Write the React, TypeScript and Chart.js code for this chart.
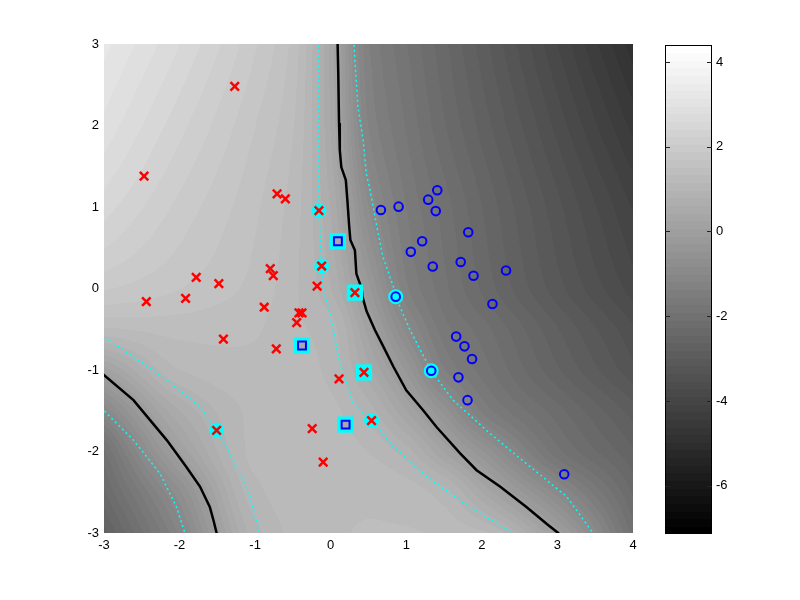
import React, { useEffect, useRef } from "react";
import { Chart, registerables } from "chart.js";
Chart.register(...registerables);

// ---- axes ----
const X_TICKS = [-3, -2, -1, 0, 1, 2, 3, 4];
const Y_TICKS = [-3, -2, -1, 0, 1, 2, 3];
const CBAR_TICKS = [-6, -4, -2, 0, 2, 4];
const CBAR_MIN = -7.14;
const CBAR_MAX = 4.4;
const CBAR_LEVELS = 64;

// ---- decision-function field (grid nodes) ----
const GRID_X = [-3, -2, -1, -0.5, 0, 0.5, 1, 1.5, 2, 3, 4];
const GRID_Y = [3, 2, 1, 0, -0.5, -1, -1.5, -2, -2.5, -3];
const FIELD_Y3 = [3.2, 2.6, 1.9, 1.45, 0.37, -1.35, -1.9, -2.4, -2.9, -3.9, -4.9];
const FIELD_Y2 = [2.9, 2.3, 1.7, 1.35, 0.42, -1.2, -1.75, -2.25, -2.7, -3.6, -4.5];
const FIELD_Y1 = [2.5, 2.0, 1.55, 1.25, 0.6, -0.82, -1.55, -2.0, -2.45, -3.3, -4.1];
const FIELD_Y0 = [1.9, 1.7, 1.45, 1.2, 0.8, -0.23, -1.33, -1.85, -2.3, -3.1, -3.8];
const FIELD_YM05 = [1.3, 1.4, 1.35, 1.2, 1.05, 0.16, -0.9, -1.65, -2.0, -2.8, -3.5];
const FIELD_YM1 = [0.15, 1.15, 1.3, 1.25, 1.1, 0.49, -0.33, -1.35, -1.8, -2.6, -3.3];
const FIELD_YM15 = [-1.0, 0.61, 1.2, 1.25, 1.2, 0.88, 0.25, -0.53, -1.4, -2.2, -2.9];
const FIELD_YM2 = [-1.95, 0.08, 1.2, 1.25, 1.25, 1.15, 0.87, 0.23, -0.44, -1.85, -2.6];
const FIELD_YM25 = [-2.3, -0.69, 1.1, 1.25, 1.3, 1.3, 1.25, 1.05, 0.44, -0.93, -2.3];
const FIELD_YM3 = [-2.7, -1.15, 0.9, 1.2, 1.3, 1.35, 1.35, 1.3, 1.2, 0.02, -2.0];
const FIELD_ROWS = [FIELD_Y3, FIELD_Y2, FIELD_Y1, FIELD_Y0, FIELD_YM05, FIELD_YM1, FIELD_YM15, FIELD_YM2, FIELD_YM25, FIELD_YM3];

// ---- contour lines ----
const ZERO_RIGHT = [[0.09, 3.05], [0.10, 2.64], [0.11, 2.03], [0.12, 1.70], [0.14, 1.49], [0.20, 1.33], [0.22, 1.09], [0.245, 0.76], [0.26, 0.595], [0.32, 0.47], [0.34, 0.18], [0.41, 0.0], [0.42, -0.10], [0.475, -0.28], [0.585, -0.51], [0.695, -0.71], [0.83, -0.96], [1.0, -1.25], [1.22, -1.49], [1.40, -1.70], [1.71, -2.02], [1.93, -2.23], [2.24, -2.43], [2.59, -2.68], [2.86, -2.89], [3.01, -3.0], [3.05, -3.05]];
const ZERO_LEFT = [[-3.05, -1.03], [-2.99, -1.07], [-2.61, -1.37], [-2.17, -1.86], [-1.91, -2.19], [-1.73, -2.43], [-1.60, -2.68], [-1.55, -2.85], [-1.51, -3.0], [-1.50, -3.05]];
const PLUS_RIGHT = [[-0.156, 3.05], [-0.156, 2.0], [-0.156, 0.955], [-0.12, 0.276], [-0.10, 0.0], [-0.01, -0.30], [0.12, -0.92], [0.30, -1.41], [0.54, -1.62], [0.83, -1.94], [1.27, -2.31], [1.84, -2.68], [2.41, -3.0], [2.5, -3.05]];
const PLUS_LEFT = [[-3.05, -0.57], [-2.99, -0.60], [-2.61, -0.84], [-2.17, -1.12], [-1.73, -1.45], [-1.51, -1.74], [-1.29, -2.10], [-1.07, -2.55], [-0.94, -3.0], [-0.93, -3.05]];
const MINUS_RIGHT = [[0.30, 3.05], [0.31, 2.97], [0.36, 2.23], [0.43, 1.82], [0.47, 1.41], [0.52, 1.21], [0.61, 0.76], [0.69, 0.39], [0.83, 0.02], [0.86, -0.10], [1.05, -0.51], [1.33, -1.01], [1.62, -1.37], [2.06, -1.74], [2.59, -2.15], [3.12, -2.55], [3.47, -3.0], [3.52, -3.05]];
const MINUS_LEFT = [[-3.05, -1.47], [-2.99, -1.51], [-2.61, -1.86], [-2.26, -2.27], [-2.04, -2.68], [-1.93, -3.0], [-1.92, -3.05]];

// ---- points ----
const RED_X = [[-1.27, 2.48], [-2.47, 1.38], [-0.71, 1.16], [-0.60, 1.10], [-0.156, 0.955], [-0.12, 0.276], [-1.78, 0.137], [-1.48, 0.06], [-0.80, 0.243], [-0.76, 0.157], [-0.18, 0.03], [-2.44, -0.16], [-1.92, -0.12], [0.32, -0.05], [-0.88, -0.23], [-0.42, -0.30], [-0.38, -0.30], [-0.45, -0.42], [-1.42, -0.62], [-0.72, -0.74], [0.44, -1.03], [0.11, -1.11], [0.54, -1.62], [-0.245, -1.72], [-0.10, -2.13], [-1.51, -1.74]];
const BLUE_O = [[0.664, 0.963], [0.898, 1.004], [1.41, 1.205], [1.29, 1.09], [1.39, 0.95], [1.82, 0.69], [1.21, 0.58], [1.06, 0.45], [1.35, 0.27], [1.72, 0.325], [1.89, 0.157], [2.32, 0.22], [0.86, -0.10], [2.14, -0.19], [1.66, -0.59], [1.77, -0.71], [1.87, -0.865], [1.33, -1.01], [1.69, -1.09], [1.81, -1.37], [3.09, -2.28]];
const BLUE_SQUARE = [[0.095, 0.58], [-0.38, -0.70], [0.197, -1.67]];
const SV_CIRCLE = [[-0.156, 0.955], [-0.12, 0.276], [0.86, -0.10], [1.33, -1.01], [0.54, -1.62], [-1.51, -1.74]];
const SV_SQUARE = [[0.095, 0.58], [0.32, -0.05], [-0.38, -0.70], [0.44, -1.03], [0.197, -1.67]];

const FONT = "'Liberation Sans', Arial, Helvetica, sans-serif";
const TICK_FONT = { family: FONT, size: 13 };
const toXY = (arr: number[][]) => arr.map(([x, y]) => ({ x, y }));

// monotone cubic (PCHIP) slopes for a sequence of nodes
function pchipSlopes(xs: number[], ys: number[]) {
  const n = xs.length;
  const d: number[] = [];
  for (let i = 0; i < n - 1; i++) d.push((ys[i + 1] - ys[i]) / (xs[i + 1] - xs[i]));
  const m: number[] = new Array(n).fill(0);
  m[0] = d[0];
  m[n - 1] = d[n - 2];
  for (let i = 1; i < n - 1; i++) {
    if (d[i - 1] * d[i] <= 0) m[i] = 0;
    else {
      const h0 = xs[i] - xs[i - 1], h1 = xs[i + 1] - xs[i];
      const w1 = 2 * h1 + h0, w2 = h1 + 2 * h0;
      m[i] = (w1 + w2) / (w1 / d[i - 1] + w2 / d[i]);
    }
  }
  return m;
}

function findSeg(arr: number[], v: number) {
  const asc = arr[arr.length - 1] > arr[0];
  for (let i = 0; i < arr.length - 1; i++) {
    const a = arr[i], b = arr[i + 1];
    const inside = asc ? v >= a && v <= b : v <= a && v >= b;
    if (inside) return { i, t: (v - a) / (b - a) };
  }
  if (asc ? v < arr[0] : v > arr[0]) return { i: 0, t: 0 };
  return { i: arr.length - 2, t: 1 };
}

function hermite(xs: number[], ys: number[], ms: number[], v: number) {
  const { i, t } = findSeg(xs, v);
  const h = xs[i + 1] - xs[i];
  const t2 = t * t, t3 = t2 * t;
  return (2 * t3 - 3 * t2 + 1) * ys[i] + (t3 - 2 * t2 + t) * h * ms[i] + (-2 * t3 + 3 * t2) * ys[i + 1] + (t3 - t2) * h * ms[i + 1];
}

function grayFor(v: number) {
  let lvl = Math.floor(((v - CBAR_MIN) / (CBAR_MAX - CBAR_MIN)) * CBAR_LEVELS);
  lvl = Math.max(0, Math.min(CBAR_LEVELS - 1, lvl));
  return Math.round((lvl * 255) / (CBAR_LEVELS - 1));
}

const fieldPlugin = {
  id: "fieldBg",
  beforeDatasetsDraw(chart: any) {
    const { ctx, chartArea: a, scales } = chart;
    const w = Math.round(a.right - a.left);
    const h = Math.round(a.bottom - a.top);
    const rowSlopes = FIELD_ROWS.map((r) => pchipSlopes(GRID_X, r));
    const colVals: number[][] = [];
    for (let px = 0; px < w; px++) {
      const xv = scales.x.getValueForPixel(a.left + px + 0.5);
      colVals.push(FIELD_ROWS.map((r, k) => hermite(GRID_X, r, rowSlopes[k], xv)));
    }
    const colSlopes = colVals.map((c) => pchipSlopes(GRID_Y, c));
    const off = document.createElement("canvas");
    off.width = w;
    off.height = h;
    const octx = off.getContext("2d")!;
    const img = octx.createImageData(w, h);
    for (let py = 0; py < h; py++) {
      const yv = scales.y.getValueForPixel(a.top + py + 0.5);
      for (let px = 0; px < w; px++) {
        const g = grayFor(hermite(GRID_Y, colVals[px], colSlopes[px], yv));
        const k = (py * w + px) * 4;
        img.data[k] = g;
        img.data[k + 1] = g;
        img.data[k + 2] = g;
        img.data[k + 3] = 255;
      }
    }
    octx.putImageData(img, 0, 0);
    ctx.save();
    ctx.drawImage(off, a.left, a.top, w, h);
    ctx.restore();
  },
};

const colorbarPlugin = {
  id: "cbar",
  beforeDatasetsDraw(chart: any) {
    const { ctx, chartArea: a, scales } = chart;
    const step = (CBAR_MAX - CBAR_MIN) / CBAR_LEVELS;
    ctx.save();
    for (let k = 0; k < CBAR_LEVELS; k++) {
      const y0 = scales.y.getPixelForValue(CBAR_MIN + k * step);
      const y1 = scales.y.getPixelForValue(CBAR_MIN + (k + 1) * step);
      const g = Math.round((k * 255) / (CBAR_LEVELS - 1));
      ctx.fillStyle = `rgb(${g},${g},${g})`;
      ctx.fillRect(a.left, Math.floor(y1), a.right - a.left, Math.ceil(y0) - Math.floor(y1));
    }
    ctx.restore();
  },
  afterDraw(chart: any) {
    const { ctx, chartArea: a, scales } = chart;
    ctx.save();
    ctx.strokeStyle = "#000";
    ctx.lineWidth = 1;
    ctx.strokeRect(a.left + 0.5, a.top + 0.5, a.right - a.left - 1, a.bottom - a.top - 1);
    ctx.strokeStyle = "#222";
    CBAR_TICKS.forEach((t) => {
      const y = Math.round(scales.y.getPixelForValue(t)) + 0.5;
      ctx.beginPath();
      ctx.moveTo(a.left, y);
      ctx.lineTo(a.left + 5, y);
      ctx.moveTo(a.right - 5, y);
      ctx.lineTo(a.right, y);
      ctx.stroke();
    });
    ctx.restore();
  },
};

export default function App() {
  const mainRef = useRef<HTMLCanvasElement>(null);
  const barRef = useRef<HTMLCanvasElement>(null);

  useEffect(() => {
    Chart.defaults.font.family = FONT;
    Chart.defaults.color = "#000";

    const lineDs = (label: string, pts: number[][], color: string, width: number, dash: number[]) => ({
      label,
      data: toXY(pts),
      showLine: true,
      borderColor: color,
      borderWidth: width,
      borderDash: dash,
      pointRadius: 0,
      fill: false,
      tension: 0,
      order: 10,
    });

    const main = new Chart(mainRef.current!, {
      type: "scatter",
      data: {
        datasets: [
          lineDs("zero-right", ZERO_RIGHT, "#000000", 2.5, []),
          lineDs("zero-left", ZERO_LEFT, "#000000", 2.5, []),
          lineDs("plus-right", PLUS_RIGHT, "#00FFFF", 1.5, [2, 3]),
          lineDs("plus-left", PLUS_LEFT, "#00FFFF", 1.5, [2, 3]),
          lineDs("minus-right", MINUS_RIGHT, "#00FFFF", 1.5, [2, 3]),
          lineDs("minus-left", MINUS_LEFT, "#00FFFF", 1.5, [2, 3]),
          {
            label: "sv-circle",
            data: toXY(SV_CIRCLE),
            pointStyle: "circle",
            pointRadius: 7.5,
            backgroundColor: "#00FFFF",
            borderColor: "#00FFFF",
            borderWidth: 0,
            order: 5,
          },
          {
            label: "sv-square",
            data: toXY(SV_SQUARE),
            pointStyle: "rect",
            pointRadius: 11.5,
            backgroundColor: "#00FFFF",
            borderColor: "#00FFFF",
            borderWidth: 0,
            order: 5,
          },
          {
            label: "class +1",
            data: toXY(RED_X),
            pointStyle: "crossRot",
            pointRadius: 6,
            borderColor: "#FF0000",
            backgroundColor: "#FF0000",
            borderWidth: 2.5,
            order: 1,
          },
          {
            label: "class -1",
            data: toXY(BLUE_O),
            pointStyle: "circle",
            pointRadius: 4.3,
            borderColor: "#0000FF",
            backgroundColor: "rgba(0,0,0,0)",
            borderWidth: 2,
            order: 1,
          },
          {
            label: "class -1 (square)",
            data: toXY(BLUE_SQUARE),
            pointStyle: "rect",
            pointRadius: 5.6,
            borderColor: "#0000FF",
            backgroundColor: "#A9A9A9",
            borderWidth: 2,
            order: 1,
          },
        ],
      },
      options: {
        responsive: false,
        animation: false,
        events: [],
        devicePixelRatio: 1,
        layout: { padding: { left: 0, right: 17, top: 44, bottom: 0 } },
        plugins: { legend: { display: false }, tooltip: { enabled: false } },
        scales: {
          x: {
            type: "linear",
            min: -3,
            max: 4,
            afterBuildTicks: (s: any) => {
              s.ticks = X_TICKS.map((v) => ({ value: v }));
            },
            afterFit: (s: any) => {
              s.height = 67;
            },
            grid: { display: false, drawTicks: false },
            border: { display: false },
            ticks: { padding: 5, autoSkip: false, maxRotation: 0, color: "#000", font: TICK_FONT, callback: (v: any) => String(v) },
          },
          y: {
            type: "linear",
            min: -3,
            max: 3,
            afterBuildTicks: (s: any) => {
              s.ticks = Y_TICKS.map((v) => ({ value: v }));
            },
            afterFit: (s: any) => {
              s.width = 104;
            },
            grid: { display: false, drawTicks: false },
            border: { display: false },
            ticks: { padding: 5, autoSkip: false, color: "#000", font: TICK_FONT, callback: (v: any) => String(v) },
          },
        },
      },
      plugins: [fieldPlugin],
    } as any);

    const bar = new Chart(barRef.current!, {
      type: "scatter",
      data: { datasets: [] },
      options: {
        responsive: false,
        animation: false,
        events: [],
        devicePixelRatio: 1,
        layout: { padding: { left: 15, right: 48, top: 45, bottom: 66 } },
        plugins: { legend: { display: false }, tooltip: { enabled: false } },
        scales: {
          x: { display: false, min: 0, max: 1 },
          y: {
            position: "right",
            min: CBAR_MIN,
            max: CBAR_MAX,
            afterBuildTicks: (s: any) => {
              s.ticks = CBAR_TICKS.map((v) => ({ value: v }));
            },
            afterFit: (s: any) => {
              s.width = 40;
            },
            grid: { display: false, drawTicks: false },
            border: { display: false },
            ticks: { padding: 4, autoSkip: false, color: "#000", font: TICK_FONT, callback: (v: any) => String(v) },
          },
        },
      },
      plugins: [colorbarPlugin],
    } as any);

    return () => {
      main.destroy();
      bar.destroy();
    };
  }, []);

  return (
    <div style={{ position: "fixed", left: 0, top: 0, width: 800, height: 600, background: "#fff" }}>
      <canvas ref={mainRef} width={650} height={600} style={{ position: "absolute", left: 0, top: 0, width: 650, height: 600 }} />
      <canvas ref={barRef} width={150} height={600} style={{ position: "absolute", left: 650, top: 0, width: 150, height: 600 }} />
    </div>
  );
}
